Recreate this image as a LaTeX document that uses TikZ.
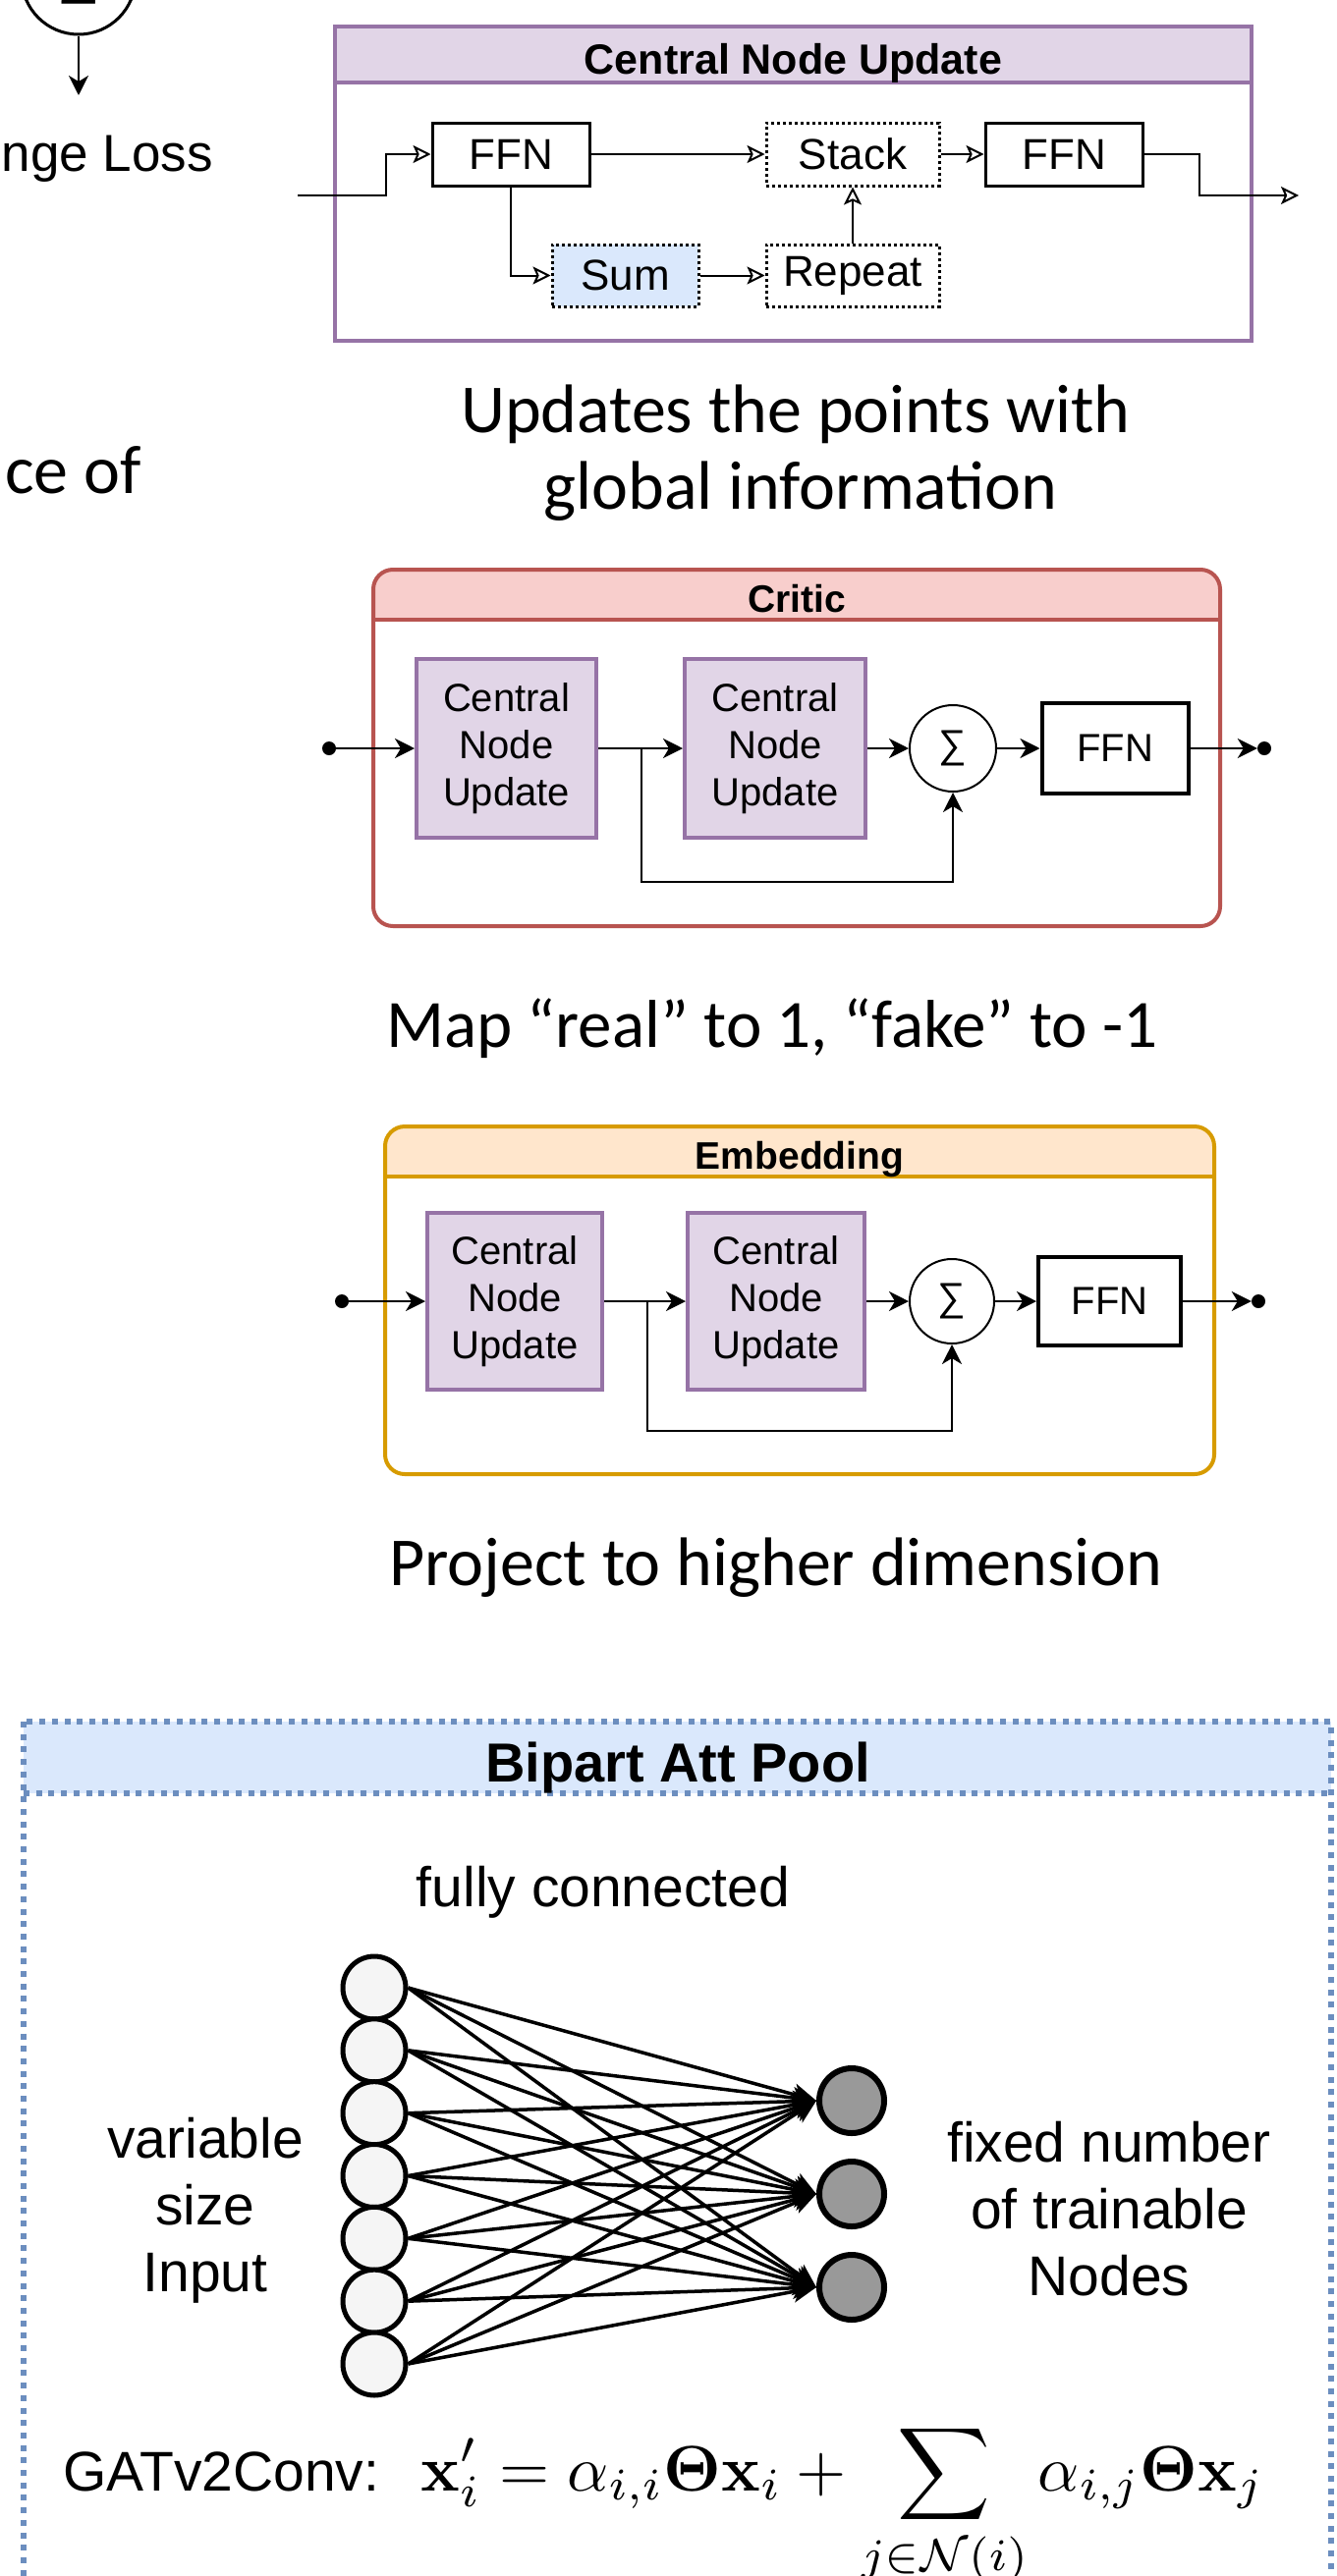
\documentclass[tikz,border=0pt]{standalone}
\usepackage{amsmath}
\usepackage{graphicx}
\usepackage[no-math]{fontspec}
\setmainfont{Liberation Sans}
\newfontfamily\capfont{Carlito}
\usetikzlibrary{arrows.meta,calc}
\newcommand{\setfs}[2]{\fontsize{#1}{#2}\selectfont}
\definecolor{purpleS}{HTML}{9673A6}
\definecolor{purpleF}{HTML}{E1D5E7}
\definecolor{redS}{HTML}{B85450}
\definecolor{redF}{HTML}{F8CECC}
\definecolor{orS}{HTML}{D79B00}
\definecolor{orF}{HTML}{FFE6CC}
\definecolor{blS}{HTML}{6C8EBF}
\definecolor{blF}{HTML}{DAE8FC}
\definecolor{grayF}{HTML}{999999}
\definecolor{lightF}{HTML}{F5F5F5}
\begin{document}
\begin{tikzpicture}[x=1pt,y=-1pt,
  ffnbox/.style={draw, line width=3pt, inner sep=0pt, font=\setfs{44}{53}},
  dotbox/.style={draw, line width=3pt, dash pattern=on 3pt off 3pt, inner sep=0pt, font=\setfs{44}{53}},
  ffnsmall/.style={draw, line width=4pt, inner sep=0pt, font=\setfs{40}{48}},
  cnu/.style={draw=purpleS, fill=purpleF, line width=4pt, inner sep=0pt, align=center, font=\setfs{40}{48}},
  sigma/.style={draw, circle, line width=2pt, minimum size=88pt, inner sep=0pt, font=\setfs{40}{48}},
  dotnode/.style={circle, fill=black, minimum size=14pt, inner sep=0pt},
  oarr/.style={line width=2pt, -{Stealth[open, length=18pt, width=18pt, inset=4pt, line width=2pt]}},
  carr/.style={line width=2.5pt, -{Stealth[length=20pt, width=20pt, inset=6pt]}},
  farr/.style={line width=3.5pt, -{Stealth[length=24pt, width=22pt, inset=6pt]}},
  titlef/.style={inner sep=0pt, font=\bfseries\setfs{39}{47}},
  capt/.style={inner sep=0pt, anchor=base, font=\capfont\setfs{70}{84}},
  lbl/.style={inner sep=0pt, align=center, font=\setfs{57}{68}},
  incirc/.style={draw, circle, line width=5pt, fill=lightF, minimum size=64pt, inner sep=0pt},
  outcirc/.style={draw, circle, line width=6pt, fill=grayF, minimum size=66pt, inner sep=0pt}
]
\useasboundingbox (0,0) rectangle (1360,2623);

% ---- cut-off parts at top left ----
\node[sigma, line width=3pt, minimum size=116pt, font=\setfs{60}{72}] (lossC) at (80,-23) {\raisebox{10pt}{∑}};
\coordinate (lossEnd) at (80,97);
\draw[carr] (lossC.south) -- (lossEnd);
\node[inner sep=0pt, anchor=base east, font=\setfs{53}{64}] (lossT) at (217,174) {nge Loss};
\node[capt, anchor=base east] (ceof) at (144,502) {ce of};

% ---- Central Node Update ----
\fill[purpleF] (341,27) rectangle (1274,84);
\draw[purpleS, line width=4pt] (341,27) rectangle (1274,347);
\draw[purpleS, line width=4pt] (341,84) -- (1274,84);
\node[titlef, font=\bfseries\setfs{43}{52}] (cnuT) at (807.5,64) {Central Node Update};
\node[ffnbox, minimum width=160pt, minimum height=64pt] (ffnA) at (520,157) {FFN};
\node[dotbox, minimum width=176pt, minimum height=64pt] (stack) at (868,157) {Stack};
\node[ffnbox, minimum width=160pt, minimum height=64pt] (ffnB) at (1083,157) {FFN};
\node[dotbox, fill=blF, minimum width=149pt, minimum height=63pt] (sum) at (636.5,280.5) {Sum};
\node[dotbox, minimum width=176pt, minimum height=63pt] (repeat) at (868,280.5) {Repeat};
\coordinate (inA) at (303,199);
\coordinate (outA) at (1322,199);
\draw[oarr] (inA) -- ++(90,0) |- (ffnA.west);
\draw[oarr] (ffnA.east) -- (stack.west);
\draw[oarr] (stack.east) -- (ffnB.west);
\draw[oarr] (ffnB.east) -- ++(56,0) |- (outA);
\draw[oarr] (ffnA.south) |- (sum.west);
\draw[oarr] (sum.east) -- (repeat.west);
\draw[oarr] (repeat.north) -- (stack.south);

\node[capt] (capA1) at (810,440) {Updates the points with};
\node[capt] (capA2) at (815,518) {global information};

% ---- Critic ----
\begin{scope}
\clip[rounded corners=20pt] (380,580) rectangle (1242,943);
\fill[redF] (380,580) rectangle (1242,631);
\end{scope}
\draw[redS, line width=4pt, rounded corners=20pt] (380,580) rectangle (1242,943);
\draw[redS, line width=4pt] (380,631) -- (1242,631);
\node[titlef] (critT) at (811,610) {Critic};
\node[dotnode] (inC) at (335,762) {};
\node[cnu, minimum width=183pt, minimum height=182pt] (cnuC1) at (515.5,762) {Central\\Node\\Update};
\node[cnu, minimum width=184pt, minimum height=182pt] (cnuC2) at (789,762) {Central\\Node\\Update};
\node[sigma] (sigC) at (970,762) {∑};
\node[ffnsmall, minimum width=149pt, minimum height=92pt] (ffnC) at (1135,762) {FFN};
\node[dotnode] (outC) at (1287,762) {};
\coordinate (brC) at (653,762);
\draw[carr] (inC) -- (cnuC1.west);
\draw[carr] (cnuC1.east) -- (cnuC2.west);
\draw[carr] (brC) -- ++(0,136) -| (sigC.south);
\draw[carr] (cnuC2.east) -- (sigC.west);
\draw[carr] (sigC.east) -- (ffnC.west);
\draw[carr] (ffnC.east) -- (outC);

\node[capt, font=\capfont\setfs{69}{83}] (capB) at (786,1066) {Map “real” to 1, “fake” to -1};

% ---- Embedding ----
\begin{scope}
\clip[rounded corners=20pt] (392,1147) rectangle (1236,1501);
\fill[orF] (392,1147) rectangle (1236,1198);
\end{scope}
\draw[orS, line width=4pt, rounded corners=20pt] (392,1147) rectangle (1236,1501);
\draw[orS, line width=4pt] (392,1198) -- (1236,1198);
\node[titlef] (embT) at (814,1180) {Embedding};
\node[dotnode] (inE) at (348,1325) {};
\node[cnu, minimum width=178pt, minimum height=180pt] (cnuE1) at (524,1325) {Central\\Node\\Update};
\node[cnu, minimum width=180pt, minimum height=180pt] (cnuE2) at (790,1325) {Central\\Node\\Update};
\node[sigma, minimum size=86pt] (sigE) at (969,1325) {∑};
\node[ffnsmall, minimum width=145pt, minimum height=90pt] (ffnE) at (1129.5,1325) {FFN};
\node[dotnode] (outE) at (1281,1325) {};
\coordinate (brE) at (659,1325);
\draw[carr] (inE) -- (cnuE1.west);
\draw[carr] (cnuE1.east) -- (cnuE2.west);
\draw[carr] (brE) -- ++(0,132) -| (sigE.south);
\draw[carr] (cnuE2.east) -- (sigE.west);
\draw[carr] (sigE.east) -- (ffnE.west);
\draw[carr] (ffnE.east) -- (outE);

\node[capt] (capC) at (790,1614) {Project to higher dimension};

% ---- Bipart Att Pool ----
\fill[blF] (24,1753) rectangle (1355,1826);
\draw[blS, line width=6pt, dash pattern=on 6pt off 6.7pt] (24,1753) rectangle (1355,2700);
\draw[blS, line width=6pt, dash pattern=on 6pt off 6.7pt] (24,1826) -- (1355,1826);
\node[titlef, font=\bfseries\setfs{56}{67}] (bapT) at (690,1800) {Bipart Att Pool};
\node[lbl] (fcT) at (614,1927) {fully connected};
\foreach \k in {1,...,7} {
  \node[incirc] (L\k) at (381,{2024+63.83*(\k-1)}) {};
}
\node[outcirc] (R1) at (867,2139) {};
\node[outcirc] (R2) at (867,2234) {};
\node[outcirc] (R3) at (867,2329) {};
\foreach \a in {1,...,7} {
  \foreach \b in {1,2,3} {
    \draw[farr] (L\a.east) -- (R\b.west);
  }
}
\node[lbl] (varT) at (209,2251) {variable\\size\\Input};
\node[lbl] (fixT) at (1129,2249) {fixed number\\of trainable\\Nodes};
\node[inner sep=0pt, anchor=base west, font=\setfs{57}{68}] (gatT) at (64,2536) {GATv2Conv:};
\node[inner sep=0pt, anchor=base west] (eqT) at (428,2536)
  {\scalebox{6.57}{$\displaystyle \mathbf{x}'_i = \alpha_{i,i}\boldsymbol{\Theta}\mathbf{x}_i + \sum_{j\in\mathcal{N}(i)} \alpha_{i,j}\boldsymbol{\Theta}\mathbf{x}_j$}};
\end{tikzpicture}
\end{document}
